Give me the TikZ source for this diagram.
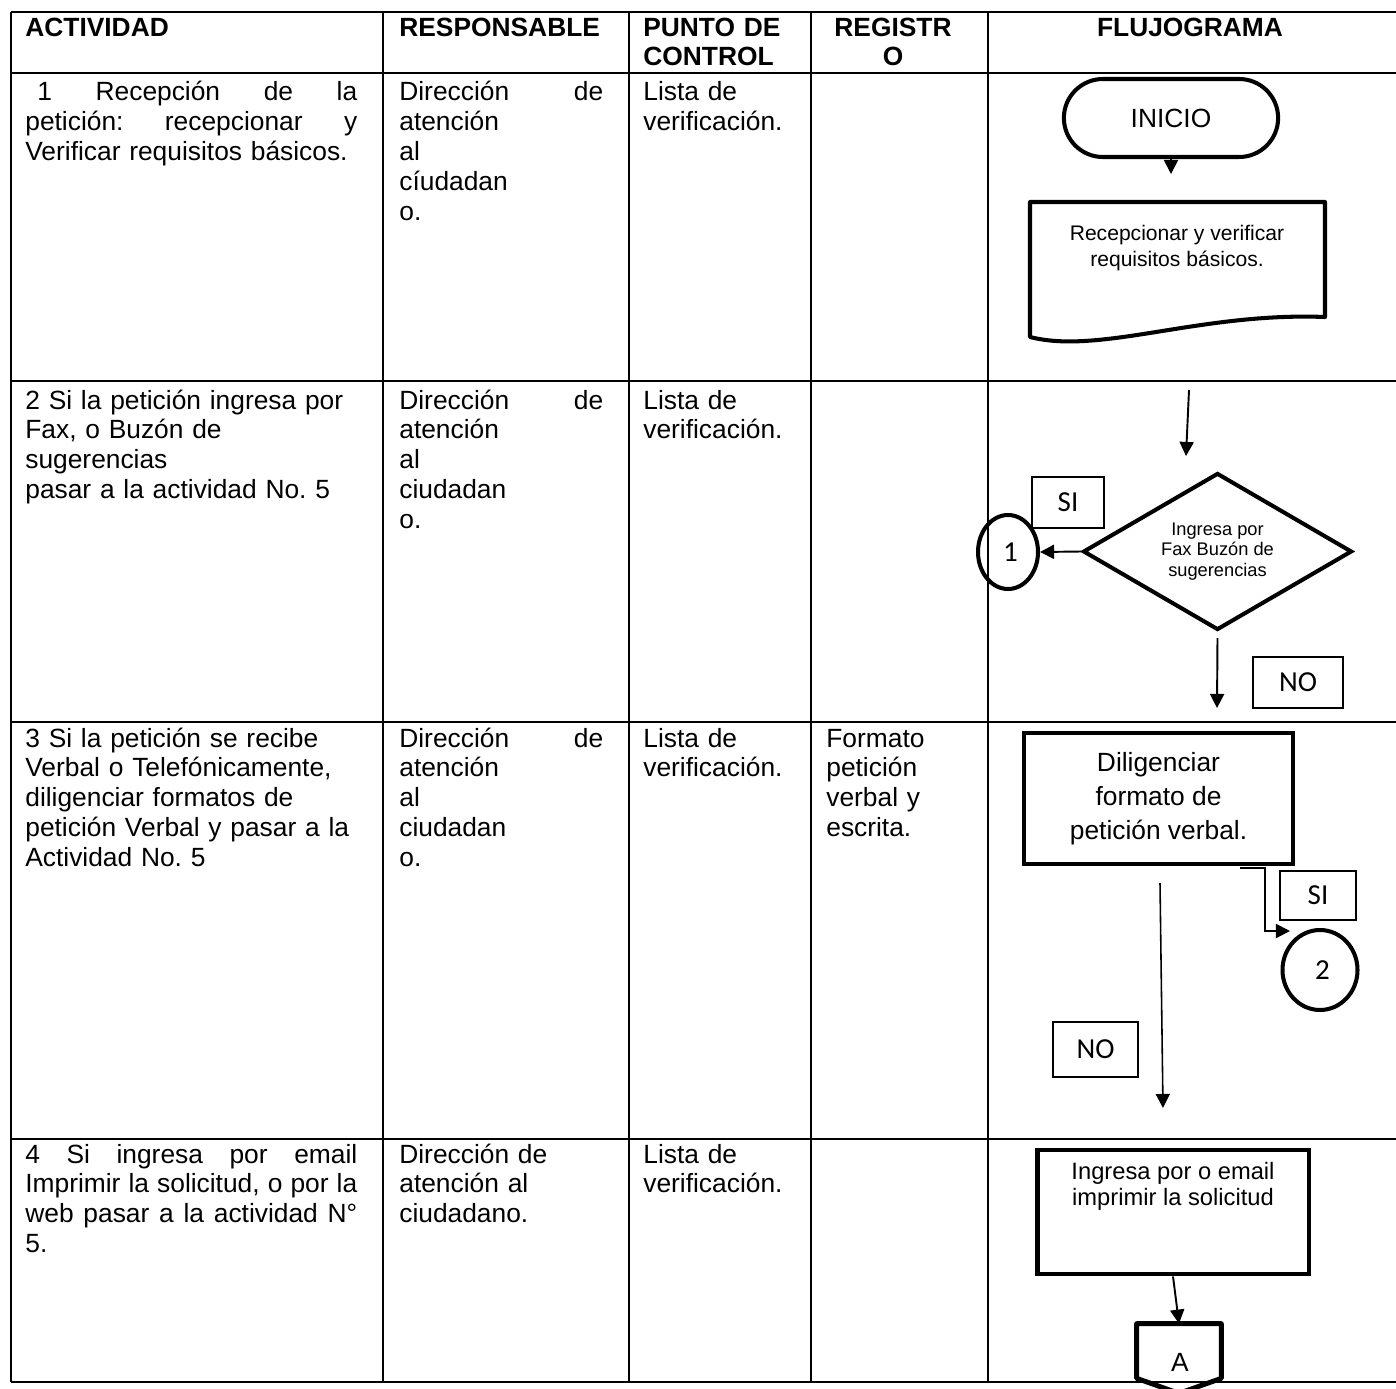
\documentclass[tikz,border=0pt]{standalone}
\usepackage{fontspec}
\setmainfont{Liberation Sans}
\newfontfamily\calibri{Carlito}
\usetikzlibrary{arrows.meta, positioning, shapes.geometric, shapes.misc}

\tikzset{
	rejilla/.style={line width=1.1pt},
	celda/.style={anchor=base west, inner sep=0pt, align=left, font=\fontsize{15}{17}\selectfont},
	titulo/.style={anchor=base west, inner sep=0pt, align=left, font=\bfseries\fontsize{15}{16.4}\selectfont},
	flecha/.style={line width=1.1pt, -{Triangle[length=8pt,width=8pt]}},
	forma/.style={draw, line width=2.3pt},
	etiqueta/.style={draw, line width=0.6pt, inner sep=0pt, font=\calibri\fontsize{16.5}{18}\selectfont},
	conector/.style={draw, ellipse, line width=2.3pt, inner sep=0pt, font=\calibri\fontsize{16.5}{18}\selectfont}
}

\begin{document}
\begin{tikzpicture}[x=0.02cm, y=-0.02cm]
	\useasboundingbox (0,0) rectangle (1396,1389);

	% Table grid
	\foreach \fila in {12,73,381,722,1139,1382}
		\draw[rejilla] (11,\fila) -- (1396,\fila);
	\foreach \col in {11,383,629,811,988}
		\draw[rejilla] (\col,12) -- (\col,1382);

	% Header
	\node[titulo, text width=7cm] (hActividad) at (25,37) {ACTIVIDAD};
	\node[titulo, text width=4.2cm] (hResponsable) at (399,37) {RESPONSABLE};
	\node[titulo, text width=3.4cm] (hControl) at (643,37) {PUNTO DE\\CONTROL};
	\node[titulo, anchor=base, align=center, text width=3.3cm] (hRegistro) at (893,37) {REGISTR\\O};
	\node[titulo, anchor=base, align=center, text width=7.5cm] (hFlujo) at (1190,37) {FLUJOGRAMA};

	% Activity column
	\node[celda, text width=6.64cm] (act1) at (25,101)
		{\hspace*{0.24cm}1\hfill Recepción\hfill de\hfill la\\petición:\hfill recepcionar\hfill y\\Verificar requisitos básicos.};
	\node[celda, text width=6.64cm] (act2) at (25,409)
		{2 Si la petición ingresa por\\Fax, o Buzón de\\sugerencias\\pasar a la actividad No.\ 5};
	\node[celda, text width=6.64cm] (act3) at (25,747)
		{3 Si la petición se recibe\\Verbal o Telefónicamente,\\diligenciar formatos de\\petición Verbal y pasar a la\\Actividad No.\ 5};
	\node[celda, text width=6.64cm] (act4) at (25,1163)
		{4\hfill Si\hfill ingresa\hfill por\hfill email\\Imprimir\hfill la\hfill solicitud,\hfill o\hfill por\hfill la\\web\hfill pasar\hfill a\hfill la\hfill actividad\hfill N°\\5.};

	% Responsible column
	\node[celda, text width=4.08cm] (resp1) at (399,101) {Dirección\hfill de\\atención\\al\\cíudadan\\o.};
	\node[celda, text width=4.08cm] (resp2) at (399,409) {Dirección\hfill de\\atención\\al\\ciudadan\\o.};
	\node[celda, text width=4.08cm] (resp3) at (399,747) {Dirección\hfill de\\atención\\al\\ciudadan\\o.};
	\node[celda, text width=4.08cm] (resp4) at (399,1163) {Dirección de\\atención al\\ciudadano.};

	% Control and record columns
	\foreach \y/\nombre in {101/ctl1,409/ctl2,747/ctl3,1163/ctl4}
		\node[celda, text width=3.3cm] (\nombre) at (643,\y) {Lista de\\verificación.};
	\node[celda, text width=3.2cm] (reg3) at (826,747) {Formato\\petición\\verbal y\\escrita.};

	% Flowchart, row 1
	\node[forma, rounded rectangle, minimum width=4.52cm, minimum height=1.56cm, font=\fontsize{15}{17}\selectfont] (inicio) at (1171,118) {INICIO};
	\coordinate (puntaInicio) at (1171,174);
	\draw[flecha] (inicio.south) -- (puntaInicio);
	\draw[forma, line join=round] (1030,202) -- (1325,202) -- (1325,317)
		.. controls (1200,312) and (1100,355) .. (1030,337) -- cycle;
	\node[align=center, font=\fontsize{12}{14.5}\selectfont] (docu) at (1177,248) {Recepcionar y verificar\\requisitos básicos.};

	% Flowchart, row 2
	\coordinate (entrada2) at (1189,390);
	\coordinate (puntaEntrada2) at (1186,456);
	\draw[flecha] (entrada2) -- (puntaEntrada2);
	\node[forma, diamond, aspect=1.7, minimum width=5.38cm, minimum height=3.14cm, inner sep=0pt, align=center, font=\fontsize{10.4}{11.6}\selectfont] (decision) at (1217.5,551.5) {Ingresa por\\Fax Buzón de\\sugerencias};
	\node[conector, minimum width=1.2cm, minimum height=1.48cm] (conect1) at (1008,552) {\,1};
	\draw[flecha] (decision.west) -- (conect1.east);
	\node[etiqueta, minimum width=1.44cm, minimum height=1.02cm] (si1) at (1068,502.5) {SI};
	\coordinate (puntaNo1) at (1217,708);
	\draw[flecha] ([yshift=-0.12cm]decision.south) -- (puntaNo1);
	\node[etiqueta, minimum width=1.8cm, minimum height=1.02cm] (no1) at (1298,682.5) {NO};

	% Flowchart, row 3
	\node[forma, minimum width=5.38cm, minimum height=2.62cm, align=center, font=\fontsize{15}{19.5}\selectfont] (verbal) at (1158.5,798.5) {Diligenciar\\formato de\\petición verbal.};
	\coordinate (codoIni) at (1240,868);
	\coordinate (codoMedio) at (1265,931);
	\coordinate (codoFin) at (1290,931);
	\draw[flecha] (codoIni) -| (codoMedio) -- (codoFin);
	\node[etiqueta, minimum width=1.52cm, minimum height=0.98cm] (si2) at (1318,895.5) {SI};
	\node[conector, minimum width=1.5cm, minimum height=1.6cm] (conect2) at (1320,970) {\,2};
	\coordinate (largoIni) at (1160,883);
	\coordinate (largoFin) at (1163,1108);
	\draw[flecha, line width=0.9pt] (largoIni) -- (largoFin);
	\node[etiqueta, minimum width=1.7cm, minimum height=1.1cm] (no2) at (1095.5,1049.5) {NO};

	% Flowchart, row 4
	\node[forma, line width=2.8pt, minimum width=5.44cm, minimum height=2.48cm] (correo) at (1173,1212) {};
	\node[align=center, font=\fontsize{13.5}{14.7}\selectfont, below=0.18cm of correo.north] (correoTexto) {Ingresa por o email\\imprimir la solicitud};
	\node[minimum width=1.68cm, minimum height=1.08cm, inner sep=0pt] (conectA) at (1179,1351) {};
	\draw[flecha] (correo.south) -- (conectA.north);
	\draw[forma, line width=2.8pt, line join=round] (conectA.south west) -- (conectA.north west) -- (conectA.north east)
		-- (conectA.south east) -- ([yshift=-0.3cm]conectA.south) -- cycle;
	\node[font=\fontsize{15}{17}\selectfont] (letraA) at (1180,1362) {A};
\end{tikzpicture}
\end{document}
